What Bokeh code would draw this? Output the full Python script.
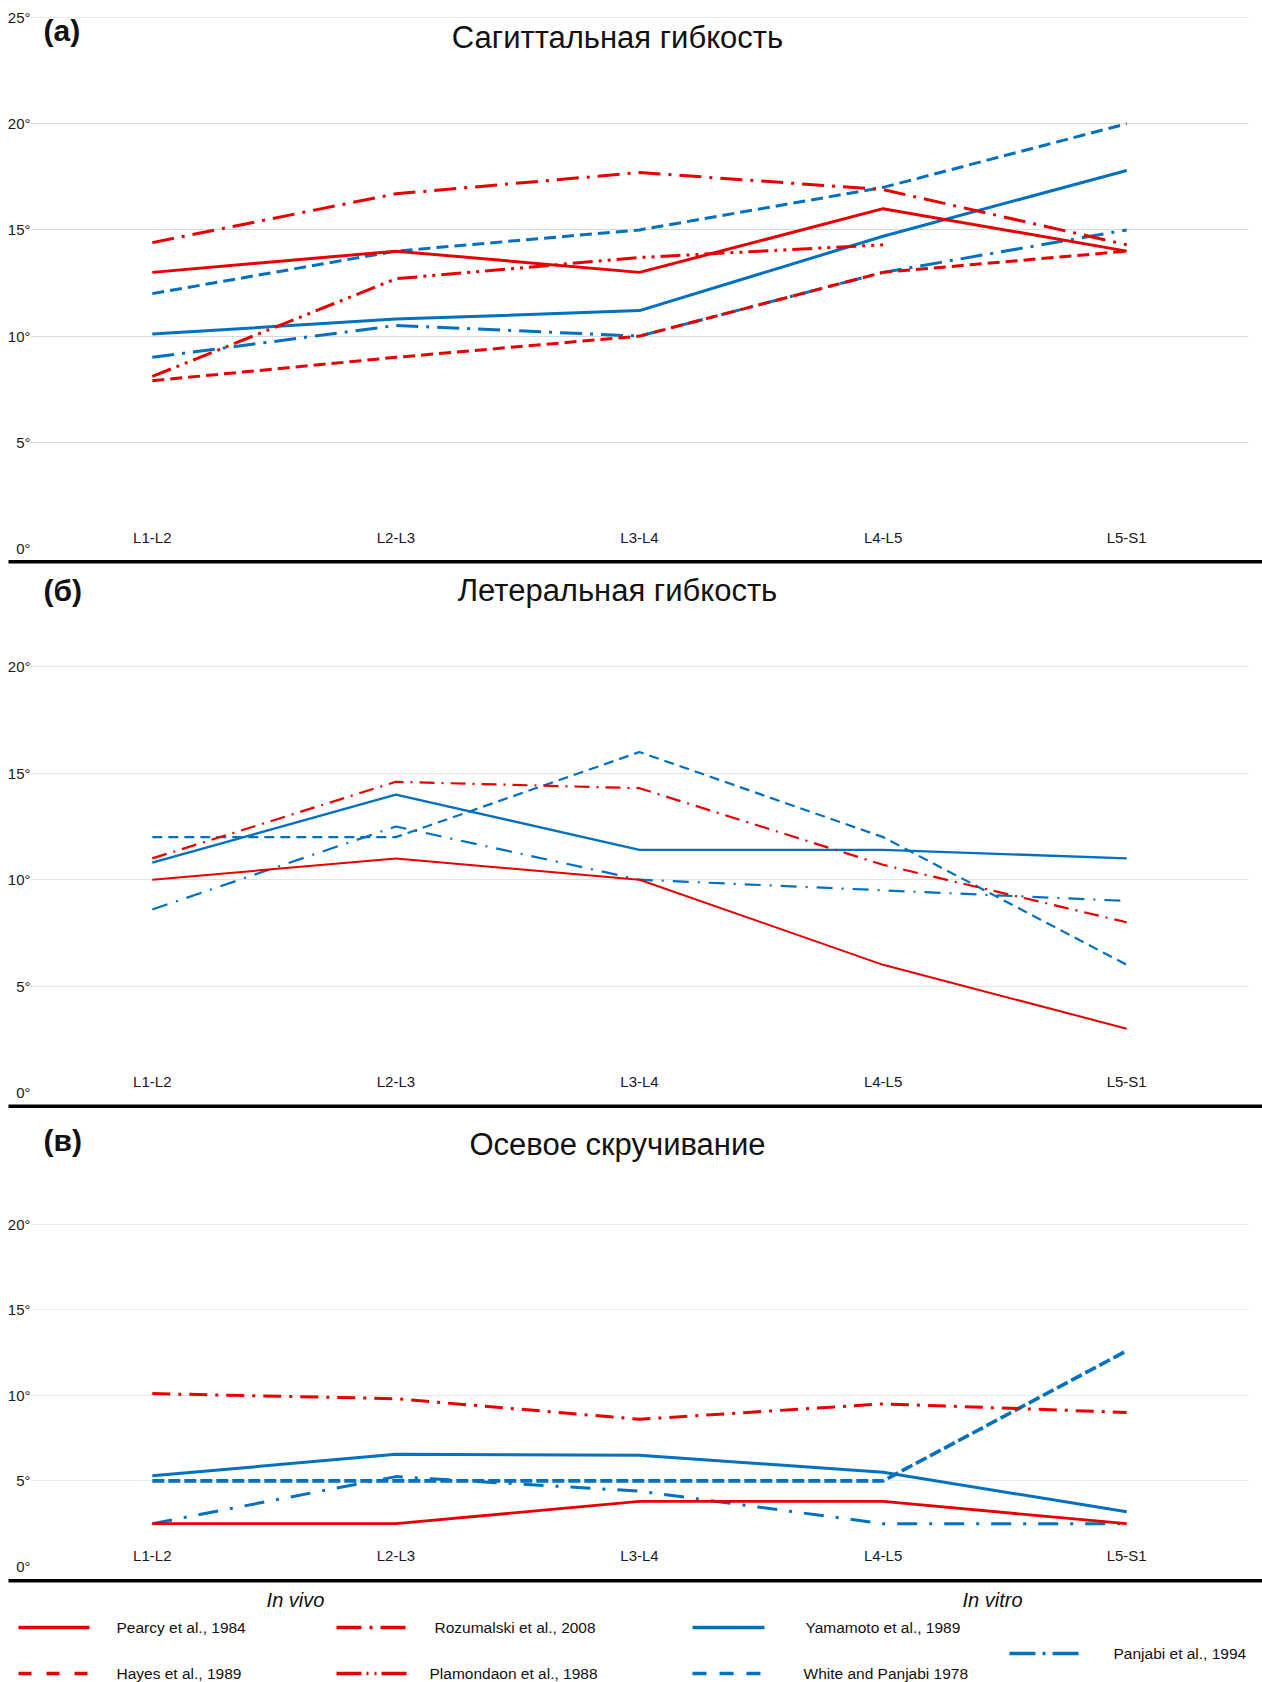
from bokeh.plotting import figure
from bokeh.layouts import column
from bokeh.models import Range1d, FixedTicker, Label
from bokeh.embed import file_html
from bokeh.resources import INLINE
from bokeh.core.properties import value

NaN = float("nan")

# ---------------- data ----------------
segments = ["L1-L2", "L2-L3", "L3-L4", "L4-L5", "L5-S1"]

# (а) Сагиттальная гибкость, degrees
sag_pearcy = [13.0, 14.0, 13.0, 16.0, 14.0]
sag_rozumalski = [14.4, 16.7, 17.7, 16.9, 14.3]
sag_hayes = [7.9, 9.0, 10.0, 13.0, 14.0]
sag_plamondon = [8.1, 12.7, 13.7, 14.3, NaN]
sag_yamamoto = [10.1, 10.8, 11.2, 14.7, 17.8]
sag_panjabi = [9.0, 10.5, 10.0, 13.0, 15.0]
sag_white = [12.0, 14.0, 15.0, 17.0, 20.0]

# (б) Летеральная гибкость, degrees
lat_pearcy = [10.0, 11.0, 10.0, 6.0, 3.0]
lat_rozumalski = [11.0, 14.6, 14.3, 10.7, 8.0]
lat_yamamoto = [10.8, 14.0, 11.4, 11.4, 11.0]
lat_panjabi = [8.6, 12.5, 10.0, 9.5, 9.0]
lat_white = [12.0, 12.0, 16.0, 12.0, 6.0]

# (в) Осевое скручивание, degrees
axi_pearcy = [2.5, 2.5, 3.8, 3.8, 2.5]
axi_rozumalski = [10.1, 9.8, 8.6, 9.5, 9.0]
axi_yamamoto = [5.3, 6.55, 6.5, 5.5, 3.2]
axi_panjabi = [2.5, 5.25, 4.4, 2.5, 2.5]
axi_white = [5.0, 5.0, 5.0, 5.0, 12.6]

ticks_a = [0, 5, 10, 15, 20, 25]
ticks_bc = [0, 5, 10, 15, 20]

study_labels = {
    "pearcy": "Pearcy et al., 1984",
    "rozumalski": "Rozumalski et al., 2008",
    "yamamoto": "Yamamoto et al., 1989",
    "panjabi": "Panjabi et al., 1994",
    "hayes": "Hayes et al., 1989",
    "plamondon": "Plamondaon et al., 1988",
    "white": "White and Panjabi 1978",
}

# ---------------- styles ----------------
RED = "#E80000"
BLUE = "#0070C0"
FONT = "Liberation Sans"
W = 1262
BL, BR = 30, 14            # left / right borders -> frame 30..1248
FRAME_W = W - BL - BR
X0, X1 = -0.5, 4.5

colors = {"pearcy": RED, "rozumalski": RED, "hayes": RED, "plamondon": RED,
          "yamamoto": BLUE, "panjabi": BLUE, "white": BLUE}

dash_a = {"pearcy": "solid", "rozumalski": "22 8 3 8", "hayes": "12 6",
          "plamondon": "20 6 3 6 3 6", "yamamoto": "solid", "panjabi": "22 8 3 8", "white": "12 6"}
dash_b = {"pearcy": "solid", "rozumalski": "15 7 2 7", "yamamoto": "solid",
          "panjabi": "16 9 2 9", "white": "10 6"}
dash_c = {"pearcy": "solid", "rozumalski": "18 8 3 8", "yamamoto": "solid",
          "panjabi": "20 12 3 12", "white": "12 4"}
width_a = {k: 3 for k in dash_a}
width_b = {"pearcy": 2, "rozumalski": 2.2, "yamamoto": 2.4, "panjabi": 2.2, "white": 2.2}
width_c = {"pearcy": 2.8, "rozumalski": 3, "yamamoto": 3, "panjabi": 3, "white": 3.6}


def page_x_to_data(px):
    return X0 + (px - BL) * (X1 - X0) / FRAME_W


def panel(frame_h, bottom, top, px_per_deg, frame_top_page, ticks,
          letter, title, letter_y_page, title_y_page, series, dashes, widths, grid_color):
    y_end = frame_h / px_per_deg
    p = figure(width=W, height=top + frame_h + bottom, x_range=Range1d(X0, X1), y_range=Range1d(0, y_end),
               x_axis_location=None, output_backend="svg", toolbar_location=None,
               min_border_left=BL, min_border_right=BR, min_border_top=top, min_border_bottom=bottom,
               frame_align=False)
    p.outline_line_color = None
    p.xgrid.visible = False
    p.ygrid.ticker = FixedTicker(ticks=ticks)
    p.ygrid.grid_line_color = grid_color
    p.ygrid.grid_line_width = 1.2
    ax = p.yaxis[0]
    ax.ticker = FixedTicker(ticks=ticks)
    ax.major_label_overrides = {t: f"{t}°" for t in ticks}
    ax.axis_line_color = None
    ax.major_tick_line_color = None
    ax.minor_tick_line_color = None
    ax.major_tick_out = 0
    ax.major_tick_in = 0
    ax.major_label_standoff = 0
    ax.major_label_text_font = FONT
    ax.major_label_text_font_size = "15px"
    ax.major_label_text_color = "#1a1a1a"

    xs = list(range(len(segments)))
    for key, vals in series:
        p.line(xs, vals, line_color=colors[key], line_width=widths[key], line_dash=dashes[key])

    p.text(x=xs, y=[0] * len(xs), text=segments, text_font=value(FONT),
           text_font_size="15px", text_align="center", text_baseline="middle",
           text_color="#1a1a1a", y_offset=-11)

    def page_y_to_data(py):
        return y_end - (py - frame_top_page) / px_per_deg

    p.add_layout(Label(x=page_x_to_data(43), y=page_y_to_data(letter_y_page), text=letter,
                       text_font=FONT, text_font_size="30px", text_font_style="bold",
                       text_align="left", text_baseline="middle", text_color="#111111"))
    p.add_layout(Label(x=page_x_to_data(617), y=page_y_to_data(title_y_page), text=title,
                       text_font=FONT, text_font_size="31px", text_align="center",
                       text_baseline="middle", text_color="#111111"))
    return p


def strip(top_page, height, bar_top, bar_bottom):
    """Full-width spacer with the thick black separator rule (page pixel coordinates)."""
    s = figure(width=W, height=height, x_range=Range1d(0, W),
               y_range=Range1d(top_page + height, top_page),
               x_axis_location=None, y_axis_location=None,
               min_border_left=0, min_border_right=0, min_border_top=0, min_border_bottom=0,
               frame_align=False, toolbar_location=None, output_backend="svg")
    s.outline_line_color = None
    s.grid.visible = False
    s.quad(left=[8], right=[W], top=[bar_top], bottom=[bar_bottom],
           fill_color="#000000", line_color=None)
    return s


# panel (а): page 0..557, frame 17..548.4
pa = panel(531, 9, 17, 531 / 25, 17, ticks_a,
           "(а)", "Сагиттальная гибкость", 30, 36.5,
           [("white", sag_white), ("panjabi", sag_panjabi), ("yamamoto", sag_yamamoto),
            ("plamondon", sag_plamondon), ("hayes", sag_hayes),
            ("rozumalski", sag_rozumalski), ("pearcy", sag_pearcy)],
           dash_a, width_a, "#D9D9D9")
s1 = strip(557, 15, 559.5, 563)

# panel (б): page 572..1103, frame 572..1092
pb = panel(520, 11, 0, 21.28, 572, ticks_bc,
           "(б)", "Летеральная гибкость", 590, 590,
           [("white", lat_white), ("panjabi", lat_panjabi), ("yamamoto", lat_yamamoto),
            ("rozumalski", lat_rozumalski), ("pearcy", lat_pearcy)],
           dash_b, width_b, "#E2E2E2")
s2 = strip(1103, 15, 1104, 1107.5)

# panel (в): page 1118..1578, frame 1118..1566
pc = panel(448, 12, 0, 17.12, 1118, ticks_bc,
           "(в)", "Осевое скручивание", 1140, 1144,
           [("white", axi_white), ("panjabi", axi_panjabi), ("yamamoto", axi_yamamoto),
            ("rozumalski", axi_rozumalski), ("pearcy", axi_pearcy)],
           dash_c, width_c, "#EBEBEB")

# ---------------- legend (page 1578..1682) ----------------
LEG_TOP = 1578
LEG_H = 104
leg = strip(LEG_TOP, LEG_H, 1578.5, 1582)

legend_dash = {"pearcy": "solid", "rozumalski": "25 8 3 8", "yamamoto": "solid",
               "panjabi": "26 7 3 7", "hayes": "13 15", "plamondon": "25 5 2 6 2 5",
               "white": "14 13"}
# (key, swatch x0, swatch x1, text x, row y) in page pixels
legend_layout = [
    ("pearcy", 18, 89, 116, 1627),
    ("rozumalski", 336, 408, 434, 1627),
    ("yamamoto", 692, 764, 805, 1627),
    ("panjabi", 1009, 1078, 1113, 1653),
    ("hayes", 18, 89, 116, 1673),
    ("plamondon", 336, 408, 429, 1673),
    ("white", 692, 764, 803, 1673),
]
for key, sx0, sx1, tx, ty in legend_layout:
    leg.line([sx0, sx1], [ty, ty], line_color=colors[key], line_width=3.4, line_dash=legend_dash[key])
leg.text(x=[r[3] for r in legend_layout], y=[r[4] for r in legend_layout],
         text=[study_labels[r[0]] for r in legend_layout], text_font=value(FONT),
         text_font_size="15.5px", text_align="left", text_baseline="middle", text_color="#111111")
leg.text(x=[295, 992], y=[1599, 1599], text=["In vivo", "In vitro"], text_font=value(FONT),
         text_font_size="20px", text_font_style="italic", text_align="center",
         text_baseline="middle", text_color="#111111")

layout = column(pa, s1, pb, s2, pc, leg, spacing=0)

open("out.html", "w").write(file_html(layout, INLINE))
